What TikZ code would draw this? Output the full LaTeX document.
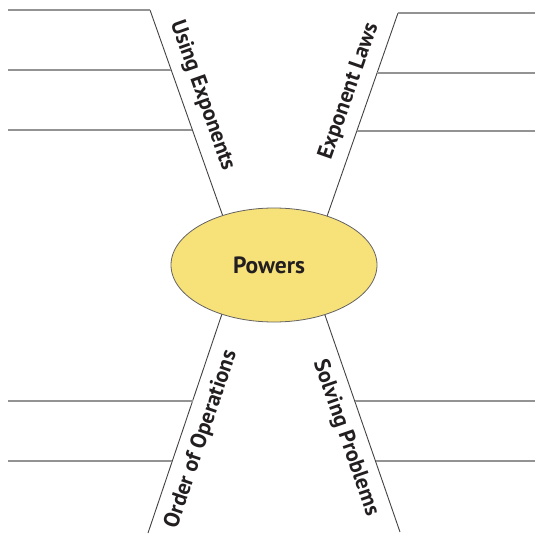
\documentclass[tikz,border=0pt]{standalone}
\usepackage{fontspec}
\setmainfont{PT Sans}
\usetikzlibrary{shapes.geometric, backgrounds}
\definecolor{bubble}{RGB}{247,226,122}
\definecolor{ink}{RGB}{35,31,32}

\begin{document}
\begin{tikzpicture}[
  x=1pt, y=-1pt,
  topic/.style={ellipse, draw=ink!70, line width=0.8pt, fill=bubble,
    minimum width=206pt, minimum height=114pt, inner sep=0pt,
    font=\bfseries\fontsize{23.5}{23.5}\selectfont, text=ink},
  branch/.style={draw=ink!85, line width=0.9pt},
  rule/.style={draw=gray!85, line width=1.3pt},
  tag/.style={sloped, inner sep=0pt, font=\bfseries\fontsize{22}{22}\selectfont, text=ink}
]
\useasboundingbox (0,0) rectangle (535,535);
\node[topic] (powers) at (274,265) {\hspace*{-10pt}Powers};

% free ends of the four branches
\coordinate (ue-top) at (150,10);
\coordinate (ue-end) at (226,225);
\coordinate (el-top) at (398,13);
\coordinate (el-end) at (324,225);
\coordinate (oo-bot) at (148,533);
\coordinate (oo-end) at (225,305);
\coordinate (sp-bot) at (400,532);
\coordinate (sp-end) at (321.5,305);

\begin{scope}[on background layer]
  \draw[branch] (ue-top) -- node[tag, above=10pt, pos=0.43] {Using Exponents} (ue-end);
  \draw[branch] (el-end) -- node[tag, above=10pt, pos=0.6] {Exponent Laws} (el-top);
  \draw[branch] (oo-bot) -- node[tag, below=10pt, pos=0.44] {Order of Operations} (oo-end);
  \draw[branch] (sp-end) -- node[tag, below=10pt, pos=0.555] {Solving Problems} (sp-bot);
\end{scope}

% writing lines
\draw[rule] (8,10) -- (ue-top);
\draw[rule] (8,70) -- (171,70);
\draw[rule] (8,130) -- (192,130);
\draw[rule] (el-top) -- (535,13);
\draw[rule] (377,73) -- (535,73);
\draw[rule] (357,131) -- (535,131);
\draw[rule] (8,401) -- (193,401);
\draw[rule] (8,461) -- (172,461);
\draw[rule] (355,401) -- (535,401);
\draw[rule] (376,461) -- (535,461);
\end{tikzpicture}
\end{document}
